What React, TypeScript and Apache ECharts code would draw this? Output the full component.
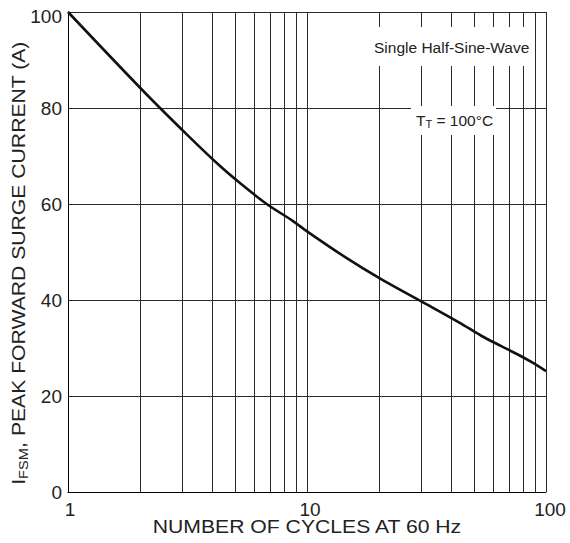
import React, { useEffect, useRef } from "react";
import * as echarts from "echarts";

const curveX = [1, 2.05, 3.17, 4.35, 5.35, 6.78, 8.71, 10.07, 14.28, 20.5, 31.7, 43.4, 53.8, 65.0, 75.9, 86.8, 100];
const curveY = [100, 83.7, 74.3, 67.8, 64.0, 60.0, 56.5, 54.2, 49.1, 44.3, 39.1, 35.3, 32.5, 30.4, 28.7, 27.1, 25.2];
const minorGridX = [2, 3, 4, 5, 6, 7, 8, 9, 20, 30, 40, 50, 60, 70, 80, 90];
const yTicks = { min: 0, max: 100, interval: 20 };
const xRange = { min: 1, max: 100 };
const xTitle = "NUMBER OF CYCLES AT 60 Hz";
const yTitle = "{a|I}{s|FSM}{a|, PEAK FORWARD SURGE CURRENT (A)}";
const note1 = "Single Half-Sine-Wave";
const note2 = "{a|T}{s|T}{a| = 100°C}";

const FONT = "'Liberation Sans', Arial, sans-serif";
const GRID_COLOR = "#2a2a2a";
const TEXT = "#222";

export default function App() {
  const ref = useRef<HTMLDivElement>(null);
  useEffect(() => {
    const chart = echarts.init(ref.current!, null, { renderer: "svg" });
    const lbl = { fontSize: 19, color: TEXT, fontFamily: FONT };
    chart.setOption({
      animation: false,
      backgroundColor: "#ffffff",
      textStyle: { fontFamily: FONT },
      grid: { left: 68, right: 24, top: 12, bottom: 51, containLabel: false, outerBoundsMode: "none" },
      xAxis: {
        type: "log",
        logBase: 10,
        min: xRange.min,
        max: xRange.max,
        axisLine: { show: true, lineStyle: { color: "#000", width: 1 } },
        axisTick: { show: false },
        axisLabel: {
          ...lbl,
          margin: 8,
          formatter: (v: number) => (v >= 100 ? `{c|${v}}` : v >= 10 ? `{b|${v}}` : `{a|${v}}`),
          rich: {
            a: { ...lbl, padding: [0, 0, 0, 4] },
            b: { ...lbl, padding: [0, 0, 0, 6] },
            c: { ...lbl, padding: [0, 0, 0, 8] },
          },
        },
        splitLine: { show: true, lineStyle: { color: GRID_COLOR, width: 1 } },
      },
      yAxis: {
        type: "value",
        min: yTicks.min,
        max: yTicks.max,
        interval: yTicks.interval,
        axisLine: { show: true, lineStyle: { color: "#000", width: 1 } },
        axisTick: { show: false },
        axisLabel: {
          ...lbl,
          margin: 6,
          formatter: (v: number) => (v >= 100 ? `{t|${v}}` : `{n|${v}}`),
          rich: {
            n: { ...lbl },
            t: { ...lbl, padding: [9, 0, 0, 0] },
          },
        },
        splitLine: { show: true, lineStyle: { color: GRID_COLOR, width: 1 } },
      },
      series: [
        {
          type: "line",
          data: [],
          silent: true,
          markLine: {
            silent: true,
            symbol: ["none", "none"],
            label: { show: false },
            lineStyle: { color: GRID_COLOR, width: 1, type: "solid" },
            data: minorGridX.map((v) => ({ xAxis: v })),
          },
        },
        {
          type: "line",
          data: curveX.map((x, i) => [x, curveY[i]]),
          smooth: 0.3,
          symbol: "none",
          lineStyle: { color: "#111", width: 2.6 },
          z: 5,
        },
      ],
      graphic: [
        {
          type: "text",
          x: 307,
          y: 527,
          scaleX: 1.21,
          z: 100,
          style: {
            text: xTitle,
            font: "17.5px 'Liberation Sans', Arial, sans-serif",
            fill: TEXT,
            align: "center",
            verticalAlign: "middle",
          },
        },
        {
          type: "text",
          x: 19,
          y: 263,
          rotation: Math.PI / 2,
          scaleX: 1.21,
          z: 100,
          style: {
            text: yTitle,
            align: "center",
            verticalAlign: "middle",
            rich: {
              a: { fontSize: 17.5, fill: TEXT, fontFamily: FONT, lineHeight: 22 },
              s: { fontSize: 12, fill: TEXT, fontFamily: FONT, lineHeight: 22, padding: [9, 0, 0, 0] },
            },
          },
        },
        {
          type: "text",
          left: 373,
          top: 27,
          z: 100,
          style: {
            text: note1,
            font: "15.5px 'Liberation Sans', Arial, sans-serif",
            fill: TEXT,
            backgroundColor: "#fff",
            padding: [12, 4, 11, 1],
          },
        },
        {
          type: "text",
          left: 411,
          top: 106,
          z: 100,
          style: {
            text: note2,
            backgroundColor: "#fff",
            padding: [5, 3, 5, 5],
            rich: {
              a: { fontSize: 15.5, fill: TEXT, fontFamily: FONT, lineHeight: 19 },
              s: { fontSize: 11, fill: TEXT, fontFamily: FONT, lineHeight: 19, padding: [7, 0, 0, 0] },
            },
          },
        },
      ],
    });
    return () => chart.dispose();
  }, []);
  return (
    <div
      ref={ref}
      style={{ position: "fixed", left: 0, top: 0, width: 570, height: 543, background: "#fff" }}
    />
  );
}
